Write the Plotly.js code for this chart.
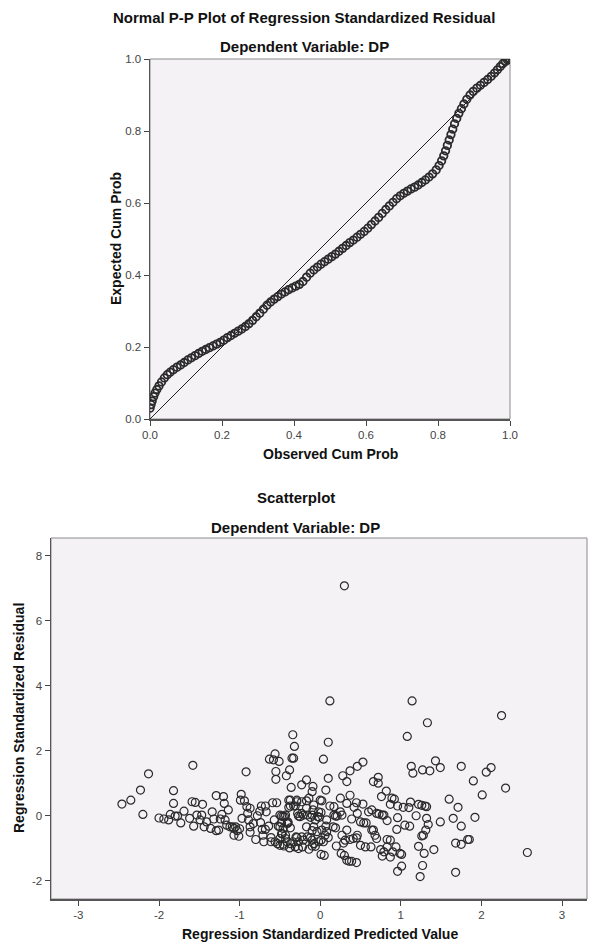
<!DOCTYPE html>
<html>
<head>
<meta charset="utf-8">
<script src="https://cdn.plot.ly/plotly-3.0.1.min.js"></script>
<style>html,body{margin:0;padding:0;background:#fff;}#chart{width:589px;height:942px;}</style>
</head>
<body>
<div id="chart"></div>
<script>
// ---------- P-P plot data ----------
const ppObserved = [0.000,0.003,0.006,0.010,0.014,0.019,0.025,0.032,0.040,0.048,0.056,0.065,0.075,0.085,0.095,0.105,0.115,0.125,0.135,0.145,0.155,0.165,0.175,0.185,0.195,0.205,0.215,0.225,0.235,0.245,0.255,0.265,0.275,0.285,0.295,0.305,0.315,0.325,0.335,0.345,0.355,0.365,0.375,0.385,0.395,0.405,0.415,0.425,0.435,0.445,0.455,0.465,0.475,0.485,0.495,0.505,0.515,0.525,0.535,0.545,0.555,0.565,0.575,0.585,0.595,0.605,0.615,0.625,0.635,0.645,0.655,0.665,0.675,0.685,0.695,0.705,0.715,0.725,0.735,0.745,0.755,0.765,0.775,0.785,0.795,0.803,0.810,0.816,0.821,0.826,0.831,0.836,0.841,0.846,0.852,0.858,0.865,0.872,0.880,0.889,0.898,0.908,0.918,0.928,0.938,0.948,0.957,0.965,0.973,0.980,0.987,0.993,0.998,1.000];
const ppExpected = [0.030,0.040,0.050,0.062,0.072,0.082,0.092,0.103,0.114,0.123,0.130,0.137,0.144,0.150,0.157,0.164,0.170,0.176,0.182,0.188,0.193,0.198,0.203,0.208,0.213,0.219,0.226,0.232,0.238,0.244,0.250,0.257,0.265,0.274,0.284,0.294,0.305,0.316,0.325,0.333,0.340,0.347,0.353,0.359,0.364,0.369,0.374,0.382,0.394,0.405,0.414,0.422,0.430,0.437,0.444,0.451,0.458,0.466,0.474,0.482,0.490,0.497,0.505,0.513,0.521,0.530,0.540,0.550,0.560,0.571,0.582,0.592,0.602,0.612,0.620,0.627,0.633,0.639,0.644,0.650,0.657,0.664,0.672,0.681,0.692,0.704,0.717,0.731,0.745,0.760,0.775,0.790,0.805,0.820,0.835,0.849,0.862,0.875,0.888,0.900,0.910,0.919,0.927,0.935,0.943,0.952,0.961,0.970,0.979,0.987,0.993,0.997,1.000,1.000];
const diagX = [0, 1];
const diagY = [0, 1];
const ppTicks = [0.0, 0.2, 0.4, 0.6, 0.8, 1.0];
const ppTickLabels = ['0.0', '0.2', '0.4', '0.6', '0.8', '1.0'];

// ---------- Scatterplot data ----------
const predL = [-2.46,-2.35,-2.23,-2.13,-2.20,-2.00,-1.94,-1.88,-1.86,-1.80,
-1.77,-1.82,-1.82,-1.73,-1.69,-1.62,-1.58,-1.59,-1.55,-1.57,
-1.53,-1.49,-1.47,-1.46,-1.44,-1.41,-1.36,-1.34,-1.32,-1.29,
-1.29,-1.26,-1.24,-1.22,-1.20,-1.19,-1.18,-1.16,-1.14,-1.12,
-1.09,-1.07,-1.07,-1.05,-1.03,-1.01,-1.00,-0.99,-0.98,-0.97,
-0.94,-0.92,-0.91,-0.90,-0.89,-0.87,-0.87,-0.87,-0.83,-0.80,
-0.78,-0.75,-0.74,-0.73,-0.72,-0.71,-0.70,-0.68,-0.68,-0.67,
-0.64,-0.63,-0.61,-0.61,-0.59,-0.58,-0.57,-0.56,-0.56,-0.55,
-0.55,-0.54,-0.53,-0.52,-0.51,-0.50,-0.48,-0.47,-0.46,-0.45,
-0.44,-0.43,-0.42,-0.40,-0.39,-0.38,-0.38,-0.37,-0.36,-0.35,
-0.34,-0.33,-0.32,-0.31,-0.30,-0.29,-0.28,-0.27];
const residL = [0.36,0.48,0.79,1.29,0.04,-0.07,-0.10,-0.13,0.04,-0.01,
-0.01,0.77,0.38,-0.22,0.14,-0.08,1.55,0.43,0.41,-0.32,
0.02,-0.13,0.02,0.35,-0.34,-0.19,-0.39,0.12,-0.10,0.62,
-0.46,-0.44,-0.10,0.04,0.59,0.38,-0.13,-0.29,0.18,-0.34,
-0.34,-0.39,-0.60,-0.34,-0.46,-0.63,-0.40,0.48,0.66,-0.08,
0.46,1.35,0.28,0.07,-0.13,-0.34,-0.51,0.23,-0.24,-0.73,
0.00,0.14,-0.21,0.30,-0.42,-0.60,-0.80,0.30,-0.42,0.12,
-0.32,1.74,-0.67,-0.80,0.40,1.72,-0.13,-0.80,1.90,1.36,
1.12,0.40,-0.86,-0.32,1.67,-0.70,-0.01,-0.55,-0.39,-0.93,
-0.03,-0.70,1.23,-0.19,0.48,-0.99,1.41,-0.37,0.87,1.77,
2.49,0.30,2.13,-0.96,-0.65,0.48,0.07,-0.80];

const predR = [0.30,0.12,1.14,2.25,1.33,1.08,0.10,-0.33,0.04,0.53,
0.46,0.37,0.28,0.33,0.10,0.07,-0.17,-0.23,-0.09,-0.10,
0.66,0.72,0.72,0.82,0.76,0.37,0.45,0.42,0.53,0.46,
0.39,0.89,0.92,0.87,0.96,1.03,1.10,1.12,1.22,1.26,
1.30,1.32,1.13,1.15,1.27,1.36,1.43,1.49,1.75,1.90,
2.06,2.12,2.01,2.30,1.60,1.71,1.65,1.92,1.75,1.49,
1.32,1.34,1.31,1.28,1.26,1.19,0.96,0.95,1.05,1.11,
1.22,1.29,1.41,1.27,1.24,1.01,0.96,1.68,1.68,1.75,
1.83,1.85,2.57,0.94,0.99,1.01,0.90,0.87,0.77,0.79,
0.75,0.83,0.87,0.83,0.70,0.68,0.64,0.66,0.70,0.73,
0.77,0.79,0.83,0.56,0.50,0.63,0.45,0.41,0.37,0.46,
0.50,0.54,0.57,0.31,0.29,0.27,0.33,0.25,0.27,0.21,
0.19,0.17,0.16,0.19,0.26,0.30,0.33,0.36,0.39,0.45,
0.20,0.08,0.10,0.04,0.01,0.05,0.00,0.02,-0.02,0.01,
-0.08,-0.09,-0.10,-0.12,-0.06,-0.03,-0.01,-0.17,-0.10,-0.04,
-0.08,0.02,-0.16,-0.12,-0.10,-0.21,-0.23,-0.22,-0.14,-0.10,
-0.08,-0.06,-0.02,0.01,-0.27,-0.37,-0.41,-0.46,-0.50,-0.29,
-0.34,-0.43,-0.48,-0.50,-0.41,-0.37,-0.23,-0.29,-0.31,-0.37,
-0.39,-0.46,-0.43,-0.50,-0.48,-0.40,-0.21,-0.16,-0.25,-0.27,
-0.23,-0.17,-0.14,-0.17,0.07,0.08,0.06,0.17,0.12,0.25,
0.33,0.60,0.64];
const residR = [7.07,3.53,3.53,3.08,2.86,2.44,2.26,1.77,1.74,1.65,
1.52,1.38,1.23,1.05,1.15,0.79,1.10,0.95,0.90,0.74,
1.05,1.18,1.00,0.76,0.59,0.63,0.40,0.26,0.36,0.07,
-0.10,0.54,0.51,0.35,0.30,0.26,0.25,0.42,0.35,0.32,
0.30,0.28,1.52,1.31,1.41,1.38,1.69,1.48,1.52,1.07,
1.34,1.48,0.64,0.85,0.51,0.26,-0.08,-0.05,-0.32,-0.19,
-0.08,-0.27,-0.44,-0.60,-0.62,0.00,-0.06,-0.42,-0.29,-0.32,
-0.94,-1.16,-1.04,-1.53,-1.87,-1.55,-1.71,-1.74,-0.84,-0.88,
-0.73,-0.73,-1.13,-0.96,-1.16,-1.19,-1.11,-1.27,-1.24,-1.11,
-1.04,-0.96,-0.75,-0.73,-0.70,-0.60,-0.44,-0.44,0.07,0.05,
0.02,0.02,-0.15,-0.96,-0.91,-0.96,-0.68,-0.70,-0.73,-0.60,
-0.19,-0.22,-0.22,-0.75,-0.84,-0.60,-0.44,0.12,0.02,-0.01,
-0.01,0.02,-0.34,-0.37,-1.16,-1.22,-1.37,-1.40,-1.40,-1.44,
-0.93,-0.13,-0.67,-0.80,-1.19,-1.22,0.48,0.46,0.12,0.10,
0.33,0.18,0.02,-0.05,-0.13,-0.03,-0.05,-0.34,-0.46,-0.49,
-0.34,-0.44,-0.65,-0.67,-0.75,-0.75,-0.65,-0.96,-1.03,-0.93,
-0.86,-0.94,-0.80,-0.75,-1.01,-0.86,-0.80,-0.88,-0.91,-0.67,
-0.80,-0.60,-0.55,-0.34,-0.24,0.48,0.43,0.43,0.30,0.30,
0.26,-0.03,0.02,0.02,-0.22,-0.22,0.02,0.02,-0.03,-0.01,
0.07,0.23,0.54,0.46,-0.32,-0.49,-0.60,0.28,0.30,0.54,
0.38,0.12,0.18];
const predTicks = [-3,-2,-1,0,1,2,3];
const predTickLabels = ['-3','-2','-1','0','1','2','3'];
const residTicks = [-2,0,2,4,6,8];
const residTickLabels = ['-2','0','2','4','6','8'];

const predX = predL.concat(predR);
const residY = residL.concat(residR);

const FONT = 'Arial, "Liberation Sans", sans-serif';
const tickFont = {family: FONT, size: 11.5, color: '#444'};
const titleFont = {family: FONT, size: 15, color: '#111', weight: 'bold'};
const axTitleFont = {family: FONT, size: 14, color: '#111', weight: 'bold'};

const traces = [
  {x: diagX, y: diagY, xaxis: 'x', yaxis: 'y', mode: 'lines', line: {color: '#222', width: 1}, hoverinfo: 'skip', showlegend: false},
  {x: ppObserved, y: ppExpected, xaxis: 'x', yaxis: 'y', mode: 'markers', type: 'scatter',
   marker: {symbol: 'circle-open', size: 7.5, color: '#2b2b2b', line: {width: 1.8}}, showlegend: false},
  {x: predX, y: residY, xaxis: 'x2', yaxis: 'y2', mode: 'markers', type: 'scatter',
   marker: {symbol: 'circle-open', size: 8, color: '#2a2a2a', line: {width: 1.2}}, showlegend: false}
];

const axisCommon = {
  showline: true, linecolor: '#555', linewidth: 1.5, mirror: false,
  ticks: 'outside', ticklen: 5, tickcolor: '#444', tickwidth: 1,
  showgrid: false, zeroline: false, tickfont: tickFont
};

function ann(text, px, py, font, angle) {
  return {text: text, x: px/589, y: 1-py/942, xref: 'paper', yref: 'paper', showarrow: false,
          xanchor: 'center', yanchor: 'middle', textangle: angle || 0, font: font};
}

const layout = {
  width: 589, height: 942,
  margin: {l: 0, r: 0, t: 0, b: 0},
  paper_bgcolor: '#ffffff',
  plot_bgcolor: '#F5F2F6',
  showlegend: false,
  xaxis: Object.assign({}, axisCommon, {domain: [150/589, 510/589], range: [0, 1], tickvals: ppTicks, ticktext: ppTickLabels, anchor: 'y'}),
  yaxis: Object.assign({}, axisCommon, {domain: [1-419/942, 1-59/942], range: [0, 1], tickvals: ppTicks, ticktext: ppTickLabels, anchor: 'x'}),
  xaxis2: Object.assign({}, axisCommon, {domain: [51/589, 587/589], range: [-3.34, 3.31], tickvals: predTicks, ticktext: predTickLabels, anchor: 'y2'}),
  yaxis2: Object.assign({}, axisCommon, {domain: [1-899/942, 1-538/942], range: [-2.56, 8.54], tickvals: residTicks, ticktext: residTickLabels, anchor: 'x2'}),
  shapes: [
    {type: 'rect', xref: 'x domain', yref: 'y domain', x0: 0, x1: 1, y0: 0, y1: 1, line: {color: '#8a8a8a', width: 1}, layer: 'below'},
    {type: 'rect', xref: 'x2 domain', yref: 'y2 domain', x0: 0, x1: 1, y0: 0, y1: 1, line: {color: '#8a8a8a', width: 1}, layer: 'below'}
  ],
  annotations: [
    ann('Normal P-P Plot of Regression Standardized Residual', 304, 18, titleFont),
    ann('Dependent Variable: DP', 304, 47, titleFont),
    ann('Observed Cum Prob', 330, 454, axTitleFont),
    ann('Expected Cum Prob', 116, 239, axTitleFont, -90),
    ann('Scatterplot', 296, 497, titleFont),
    ann('Dependent Variable: DP', 295, 527, titleFont),
    ann('Regression Standardized Predicted Value', 320, 934, axTitleFont),
    ann('Regression Standardized Residual', 19, 718, axTitleFont, -90)
  ]
};

Plotly.newPlot('chart', traces, layout, {staticPlot: true, displayModeBar: false});
</script>
</body>
</html>
